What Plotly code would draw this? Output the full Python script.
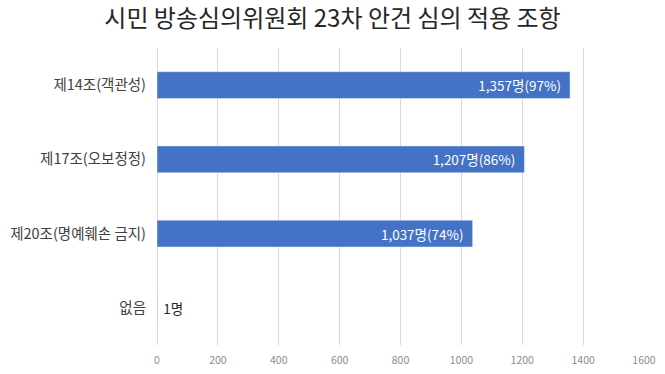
import plotly.graph_objects as go

categories = ["제14조(객관성)", "제17조(오보정정)", "제20조(명예훼손 금지)", "없음"]
values = [1357, 1207, 1037, 1]
labels = ["1,357명(97%)", "1,207명(86%)", "1,037명(74%)", "1명"]
x_ticks = [0, 200, 400, 600, 800, 1000, 1200, 1400, 1600]

font_family = "Noto Sans CJK KR, Noto Sans, sans-serif"
NB = "\u00a0"

fig = go.Figure(go.Bar(
    x=values,
    y=categories,
    orientation="h",
    marker=dict(color="#4472C4"),
    text=labels,
    texttemplate=["%{text}" + NB * 2, "%{text}" + NB * 2, "%{text}" + NB * 2, NB + "%{text}"],
    textposition=["inside", "inside", "inside", "outside"],
    insidetextanchor="end",
    insidetextfont=dict(color="white", size=13.5, family=font_family),
    outsidetextfont=dict(color="#262626", size=13.5, family=font_family),
    constraintext="none",
    cliponaxis=False,
    hoverinfo="skip",
))

fig.update_layout(
    width=665, height=374,
    margin=dict(l=157, r=21, t=48, b=29, autoexpand=False),
    paper_bgcolor="white",
    plot_bgcolor="white",
    bargap=0.64,
    showlegend=False,
    font=dict(family=font_family, color="#595959"),
    title=dict(
        text="시민 방송심의위원회 23차 안건 심의 적용 조항",
        x=0.5, xanchor="center", y=0.95, yanchor="middle",
        font=dict(size=24, color="#262626", family=font_family),
    ),
    xaxis=dict(
        range=[0, 1600],
        tickvals=x_ticks,
        ticktext=[str(v) for v in x_ticks],
        showgrid=True, gridcolor="#d9d9d9", gridwidth=1,
        zeroline=True, zerolinecolor="#d9d9d9", zerolinewidth=1,
        showline=False,
        tickfont=dict(size=10.5, color="#8c8c8c"),
        ticks="", ticklen=0,
        ticklabelstandoff=7,
        automargin=False,
        fixedrange=True,
    ),
    yaxis=dict(
        autorange="reversed",
        showgrid=False, zeroline=False, showline=False,
        tickfont=dict(size=14.5, color="#404040"),
        ticks="", ticklen=0,
        ticklabelstandoff=10,
        automargin=False,
        fixedrange=True,
    ),
)

fig.write_html("out.html", config={"displayModeBar": False},
               post_script="document.body.style.margin='0px';")
